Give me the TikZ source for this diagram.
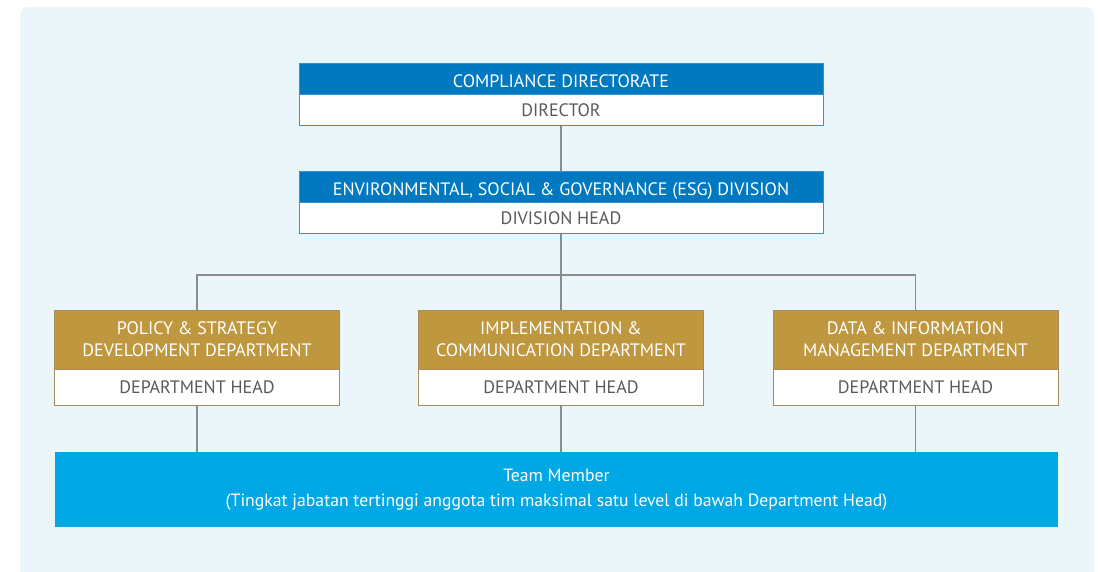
\documentclass[tikz,border=0pt]{standalone}
\usepackage{fontspec}
\setmainfont{PT Sans}
\usetikzlibrary{positioning}
\definecolor{panelbg}{HTML}{EAF6F9}
\definecolor{dirblue}{HTML}{0079C1}
\definecolor{blueedge}{HTML}{3B8FD1}
\definecolor{deptgold}{HTML}{BE973F}
\definecolor{goldedge}{HTML}{A88A5C}
\definecolor{teamblue}{HTML}{00A8E5}
\definecolor{linegray}{HTML}{8C8C8C}
\definecolor{headgray}{HTML}{5A5A5A}
\begin{document}
\begin{tikzpicture}[x=1pt,y=-1pt,
      every node/.style={font=\fontsize{18}{22}\selectfont, inner sep=0pt, align=center},
      unit/.style={draw=blueedge, fill=dirblue, text=white, minimum width=524pt, minimum height=31pt,
        text height=17pt, text depth=0pt},
      unithead/.style={draw=blueedge, fill=white, text=headgray, minimum width=524pt, minimum height=31pt},
      dept/.style={draw=goldedge, fill=deptgold, text=white, minimum width=285pt, minimum height=59pt},
      depthead/.style={draw=goldedge, fill=white, text=headgray, minimum width=285pt, minimum height=36pt},
      team/.style={fill=teamblue, text=white, minimum width=1003pt, minimum height=75pt,
        font=\fontsize{17.7}{25}\selectfont},
      link/.style={draw=linegray, line width=1.2pt}]
    \useasboundingbox (0,0) rectangle (1098,571);
    \begin{scope}                                % light panel behind the chart
      \clip (0,0) rectangle (1098,571);
      \fill[panelbg, rounded corners=8pt] (20,7) rectangle (1094,600);
    \end{scope}
    \node[unit] (CD) at (561,78.5) {COMPLIANCE DIRECTORATE};     % Directorate
    \node[unithead, below=0pt of CD] (CDH) {DIRECTOR};
    \node[unit] (ESG) at (561,186.5)
      {ENVIRONMENTAL, SOCIAL \& GOVERNANCE (ESG) DIVISION};      % Division
    \node[unithead, below=0pt of ESG] (ESGH) {DIVISION HEAD};
    \node[dept] (PSD) at (197,339.5)
      {POLICY \& STRATEGY\\DEVELOPMENT DEPARTMENT};             % Departments
    \node[depthead, below=0pt of PSD] (PSDH) {DEPARTMENT HEAD};
    \node[dept] (ICD) at (561,339.5)
      {IMPLEMENTATION \&\\COMMUNICATION DEPARTMENT};
    \node[depthead, below=0pt of ICD] (ICDH) {DEPARTMENT HEAD};
    \node[dept] (DIM) at (915.5,339.5)
      {DATA \& INFORMATION\\MANAGEMENT DEPARTMENT};
    \node[depthead, below=0pt of DIM] (DIMH) {DEPARTMENT HEAD};
    \node[team] (TM) at (556.5,489.5)
      {Team Member\\(Tingkat jabatan tertinggi anggota tim maksimal satu level di bawah Department Head)};
    \coordinate (BUS) at (0,275);                % branch line
    \draw[link] (CDH) -- (ESG);
    \draw[link] (ESGH) -- (ESGH |- BUS);
    \draw[link] (PSD) |- (DIM |- BUS) -- (DIM);
    \draw[link] (ICD) -- (ICD |- BUS);
    \draw[link] (PSDH) -- (PSDH |- TM.north);
    \draw[link] (ICDH) -- (ICDH |- TM.north);
    \draw[link] (DIMH) -- (DIMH |- TM.north);
  \end{tikzpicture}
\end{document}
